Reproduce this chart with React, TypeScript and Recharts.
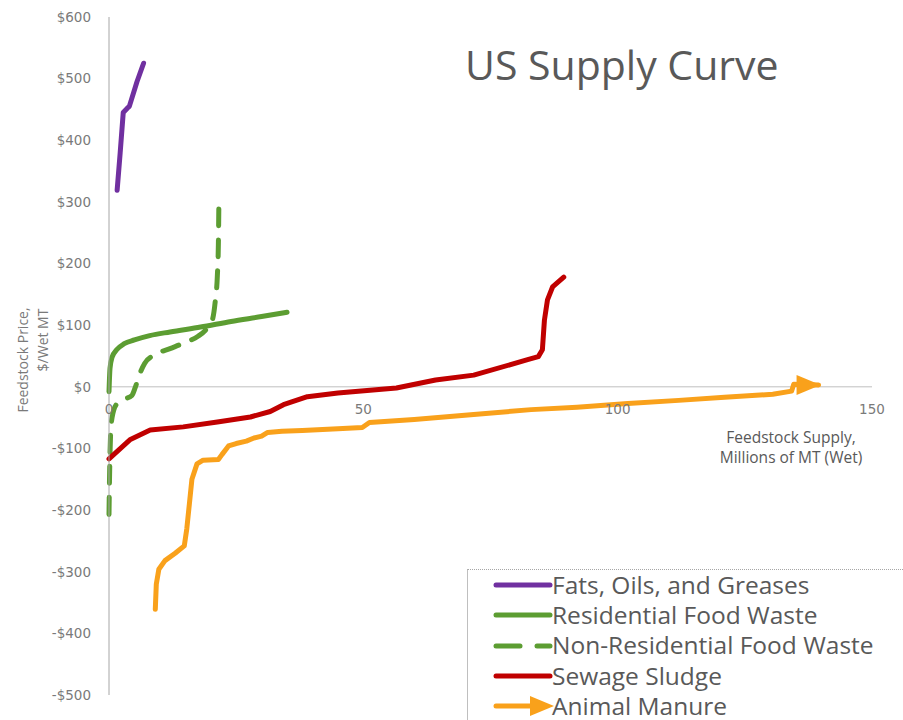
import React from 'react';
import {
  LineChart,
  Line,
  XAxis,
  YAxis,
  ReferenceLine,
  ReferenceDot,
  Legend,
} from 'recharts';

// Feedstock supply (millions of MT, wet) and price ($/wet MT)
const fogSupply = [1.6, 2.2, 2.8, 3.6, 4.0, 5.5, 6.8];
const fogPrice = [319, 380, 445, 452, 455, 495, 525];

const resSupply = [0, 0.2, 0.6, 1.5, 3, 5, 8, 12, 18, 24, 30, 35];
const resPrice = [-8, 30, 48, 60, 70, 76, 83, 89, 97, 106, 114, 121];

const nonResSupply = [0, 0.1, 0.3, 0.6, 1.5, 3, 4.5, 5.2, 6, 7, 9, 12, 15, 17.5, 19, 20.3, 20.9, 21.3, 21.5, 21.6];
const nonResPrice = [-207, -150, -80, -50, -28, -20, -14, 0, 20, 38, 52, 62, 72, 82, 92, 108, 140, 180, 230, 298];

const sludgeSupply = [0, 4.1, 8.1, 14.6, 21.3, 27.8, 31.7, 34.3, 39, 45, 56.5, 64.2, 71.7, 82.3, 84.4, 85.2, 85.6, 86.2, 87.2, 89.4];
const sludgePrice = [-117, -86, -70, -65, -57, -49, -40, -29, -16, -10, -2, 11, 19, 44, 49, 60, 108, 141, 162, 178];

const manureSupply = [9.1, 9.3, 9.8, 11, 13, 14.8, 15.3, 15.8, 16.3, 17.3, 18.5, 21.5, 22.2, 23.5, 25, 27, 28.5, 30, 31.2, 34, 38, 45, 49.8, 51.2, 60, 71.7, 83, 92, 102, 112, 121, 130.5, 134.2, 134.6, 139.5];
const manurePrice = [-361, -320, -296, -282, -270, -258, -230, -190, -150, -125, -119, -118, -110, -96, -92, -88, -83, -80, -74, -72, -71, -68, -66, -58, -53, -45, -37, -33, -27, -22, -17, -12, -7, 4, 3];

const priceTicks = [-500, -400, -300, -200, -100, 0, 100, 200, 300, 400, 500, 600];
const supplyTicks = [0, 50, 100, 150];

const zip = (xs: number[], ys: number[]) => xs.map((x, i) => ({ supply: x, price: ys[i] }));

const fogData = zip(fogSupply, fogPrice);
const resData = zip(resSupply, resPrice);
const nonResData = zip(nonResSupply, nonResPrice);
const sludgeData = zip(sludgeSupply, sludgePrice);
const manureData = zip(manureSupply, manurePrice);

const PURPLE = '#7030A0';
const GREEN = '#5C9D32';
const RED = '#C00000';
const ORANGE = '#F9A11B';
const GREY_TEXT = '#7A7A7A';
const TICK_FONT = '"DejaVu Sans", sans-serif';
const TEXT_FONT = '"Open Sans", sans-serif';

const legendItems = [
  { name: 'Fats, Oils, and Greases', color: PURPLE, kind: 'solid' },
  { name: 'Residential Food Waste', color: GREEN, kind: 'solid' },
  { name: 'Non-Residential Food Waste', color: GREEN, kind: 'dash' },
  { name: 'Sewage Sludge', color: RED, kind: 'solid' },
  { name: 'Animal Manure', color: ORANGE, kind: 'arrow' },
];

const formatPrice = (v: number) => (v < 0 ? `-$${Math.abs(v)}` : `$${v}`);

const renderArrowHead = (props: any) => {
  const { cx, cy, index } = props;
  if (index !== manureData.length - 1) return <g key={`ah-${index}`} />;
  return (
    <polygon
      key={`ah-${index}`}
      points={`${cx + 2},${cy} ${cx - 22},${cy - 10} ${cx - 22},${cy + 10}`}
      fill={ORANGE}
    />
  );
};

const LegendBox = () => (
  <div
    style={{
      borderLeft: '1.5px solid #BFBFBF',
      borderTop: '1px dotted #A6A6A6',
      width: 440,
      height: 152,
      boxSizing: 'border-box',
    }}
  >
    {legendItems.map((it) => (
      <div key={it.name} style={{ display: 'flex', alignItems: 'center', height: 30.3 }}>
        <svg width={88} height={20} style={{ flex: 'none' }}>
          {it.kind === 'solid' && (
            <line x1={28} y1={10} x2={82} y2={10} stroke={it.color} strokeWidth={5} strokeLinecap="round" />
          )}
          {it.kind === 'dash' && (
            <>
              <line x1={28} y1={10} x2={52} y2={10} stroke={it.color} strokeWidth={5} strokeLinecap="round" />
              <line x1={69} y1={10} x2={82} y2={10} stroke={it.color} strokeWidth={5} strokeLinecap="round" />
            </>
          )}
          {it.kind === 'arrow' && (
            <>
              <line x1={28} y1={10} x2={66} y2={10} stroke={it.color} strokeWidth={5} strokeLinecap="round" />
              <polygon points="86,10 62,0 62,20" fill={it.color} />
            </>
          )}
        </svg>
        <span style={{ fontFamily: TEXT_FONT, fontSize: 24.5, lineHeight: 1, color: '#595959', whiteSpace: 'nowrap', marginLeft: -4 }}>
          {it.name}
        </span>
      </div>
    ))}
  </div>
);

export default function App() {
  return (
    <div style={{ position: 'absolute', left: 0, top: 0, width: 903, height: 720, background: '#fff', overflow: 'hidden' }}>
      <LineChart width={903} height={720} margin={{ top: 17, right: 31, bottom: 25, left: 9 }}>
        <XAxis type="number" dataKey="supply" domain={[0, 150]} ticks={supplyTicks} hide />
        <YAxis
          type="number"
          domain={[-500, 600]}
          ticks={priceTicks}
          tickFormatter={formatPrice}
          width={100}
          axisLine={{ stroke: '#A6A6A6' }}
          tickLine={false}
          tickMargin={12}
          tick={{ fill: GREY_TEXT, fontSize: 13.5, fontFamily: TICK_FONT }}
        />
        <ReferenceLine y={0} stroke="#BFBFBF" strokeWidth={1} />
        {supplyTicks.map((v) => (
          <ReferenceDot
            key={v}
            x={v}
            y={0}
            r={0}
            fill="none"
            stroke="none"
            label={{ value: String(v), position: 'bottom', offset: 18, fill: GREY_TEXT, fontSize: 13.5, fontFamily: TICK_FONT }}
          />
        ))}
        <Line data={fogData} dataKey="price" name="Fats, Oils, and Greases" type="linear" stroke={PURPLE} strokeWidth={5} strokeLinecap="round" strokeLinejoin="round" dot={false} isAnimationActive={false} />
        <Line data={resData} dataKey="price" name="Residential Food Waste" type="monotone" stroke={GREEN} strokeWidth={5} strokeLinecap="round" strokeLinejoin="round" dot={false} isAnimationActive={false} />
        <Line data={nonResData} dataKey="price" name="Non-Residential Food Waste" type="monotone" stroke={GREEN} strokeWidth={5} strokeDasharray="17 14" strokeLinecap="round" strokeLinejoin="round" dot={false} isAnimationActive={false} />
        <Line data={sludgeData} dataKey="price" name="Sewage Sludge" type="linear" stroke={RED} strokeWidth={5} strokeLinecap="round" strokeLinejoin="round" dot={false} isAnimationActive={false} />
        <Line data={manureData} dataKey="price" name="Animal Manure" type="linear" stroke={ORANGE} strokeWidth={5} strokeLinecap="round" strokeLinejoin="round" dot={renderArrowHead} isAnimationActive={false} />
        <Legend
          layout="vertical"
          align="center"
          verticalAlign="middle"
          content={() => <LegendBox />}
          wrapperStyle={{ left: 467, top: 569, width: 440, height: 151 }}
        />
      </LineChart>

      <div style={{ position: 'absolute', left: 465, top: 44, fontFamily: TEXT_FONT, fontSize: 41, lineHeight: 1, color: '#595959', whiteSpace: 'nowrap' }}>
        US Supply Curve
      </div>

      <div style={{ position: 'absolute', left: 791, top: 447, transform: 'translate(-50%, -50%)', fontFamily: TEXT_FONT, fontSize: 15.5, lineHeight: '20px', color: '#595959', textAlign: 'center', whiteSpace: 'nowrap' }}>
        Feedstock Supply,
        <br />
        Millions of MT (Wet)
      </div>

      <div style={{ position: 'absolute', left: 22, top: 360, transform: 'translate(-50%, -50%) rotate(-90deg)', fontFamily: TEXT_FONT, fontSize: 14, color: GREY_TEXT, whiteSpace: 'nowrap' }}>
        Feedstock Price,
      </div>
      <div style={{ position: 'absolute', left: 42, top: 340, transform: 'translate(-50%, -50%) rotate(-90deg)', fontFamily: TEXT_FONT, fontSize: 14, color: GREY_TEXT, whiteSpace: 'nowrap' }}>
        $/Wet MT
      </div>
    </div>
  );
}
